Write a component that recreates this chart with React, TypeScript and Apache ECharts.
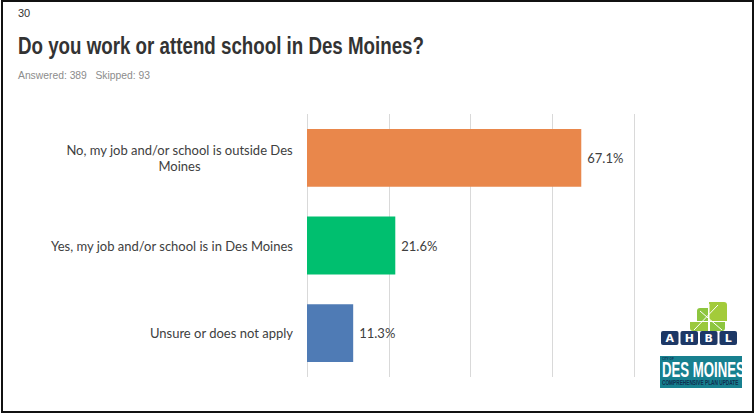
import React, { useEffect, useRef } from "react";
import * as echarts from "echarts";

const categories = [
  "No, my job and/or school is outside Des\nMoines",
  "Yes, my job and/or school is in Des Moines",
  "Unsure or does not apply",
];
const values = [67.1, 21.6, 11.3];
const barColors = ["#E9874B", "#00BF6F", "#4F7BB5"];
const xTicks = { min: 0, max: 80, interval: 20 };
const slideNumber = "30";
const titleText = "Do you work or attend school in Des Moines?";
const subtitleText = "Answered: 389   Skipped: 93";
const logoLetters = ["A", "H", "B", "L"];

const SANS = "'Liberation Sans', Arial, sans-serif";
const BODY = "Lato, 'Noto Sans', sans-serif";

export default function App() {
  const ref = useRef<HTMLDivElement>(null);
  useEffect(() => {
    if (!ref.current) return;
    const chart = echarts.init(ref.current, undefined, { renderer: "svg" });
    const option: any = {
      animation: false,
      backgroundColor: "#ffffff",
      grid: { left: 307, right: 121, top: 114, bottom: 37, containLabel: false },
      xAxis: {
        type: "value",
        min: xTicks.min,
        max: xTicks.max,
        interval: xTicks.interval,
        axisLabel: { show: false },
        axisLine: { show: false },
        axisTick: { show: false },
        splitLine: { show: true, lineStyle: { color: "#d9d9d9", width: 1 } },
      },
      yAxis: {
        type: "category",
        inverse: true,
        data: categories.map((c) =>
          c.includes("\n")
            ? { value: c, textStyle: { align: "center", padding: [0, 227, 0, 0] } }
            : c
        ),
        axisLine: { show: false },
        axisTick: { show: false },
        axisLabel: {
          margin: 14,
          align: "right",
          fontFamily: BODY,
          fontSize: 13,
          color: "#404040",
          lineHeight: 16,
        },
      },
      series: [
        {
          type: "bar",
          data: values.map((v, i) => ({ value: v, itemStyle: { color: barColors[i] } })),
          barCategoryGap: "34%",
          label: {
            show: true,
            position: "right",
            distance: 6,
            formatter: (p: any) => `${p.value.toFixed(1)}%`,
            fontFamily: BODY,
            fontSize: 13,
            color: "#404040",
          },
        },
      ],
      graphic: [
        {
          type: "rect",
          shape: { x: 2, y: 1, width: 751, height: 411 },
          style: { fill: "none", stroke: "#111111", lineWidth: 2 },
          silent: true,
        },
        {
          type: "text",
          x: 18,
          y: 7,
          style: { text: slideNumber, fill: "#333333", font: `11px ${SANS}`, align: "left", verticalAlign: "top" },
        },
        {
          type: "text",
          x: 18,
          y: 34,
          scaleX: 0.815,
          style: { text: titleText, fill: "#333333", font: `bold 23px ${SANS}`, align: "left", verticalAlign: "top" },
        },
        {
          type: "text",
          x: 18,
          y: 69,
          scaleX: 0.94,
          style: { text: subtitleText, fill: "#8c8c8c", font: `11px ${SANS}`, align: "left", verticalAlign: "top" },
        },
        // AHBL leaf mark
        { type: "rect", shape: { x: 709, y: 302, width: 18, height: 19, r: [0, 3, 0, 3] }, style: { fill: "#A3CB3A" } },
        { type: "rect", shape: { x: 697, y: 308, width: 11, height: 13, r: [3, 0, 0, 0] }, style: { fill: "#8DC63F" } },
        { type: "rect", shape: { x: 690, y: 322, width: 18, height: 9, r: [0, 0, 0, 3] }, style: { fill: "#9BC93C" } },
        { type: "rect", shape: { x: 710, y: 322, width: 15, height: 9, r: [0, 0, 3, 0] }, style: { fill: "#8DC63F" } },
        { type: "line", shape: { x1: 700, y1: 311, x2: 722, y2: 330 }, style: { stroke: "#ffffff", lineWidth: 1 } },
        { type: "line", shape: { x1: 718, y1: 305, x2: 694, y2: 330 }, style: { stroke: "#ffffff", lineWidth: 1 } },
        { type: "line", shape: { x1: 709, y1: 304, x2: 709, y2: 331 }, style: { stroke: "#ffffff", lineWidth: 1 } },
        // AHBL letter boxes
        ...logoLetters.flatMap((ch, i) => [
          {
            type: "rect",
            shape: { x: 661 + i * 19.5, y: 331, width: 17.5, height: 14, r: 2 },
            style: { fill: "#1D3866" },
          },
          {
            type: "text",
            x: 661 + i * 19.5 + 8.75,
            y: 338.5,
            style: {
              text: ch,
              fill: "#ffffff",
              font: "bold 11px 'DejaVu Sans', sans-serif",
              align: "center",
              verticalAlign: "middle",
            },
          },
        ]),
        // Des Moines box
        {
          type: "rect",
          shape: { x: 660, y: 356, width: 82, height: 32 },
          style: { fill: "#17808F" },
        },
        {
          type: "text",
          x: 662,
          y: 357,
          style: { text: "CITY OF", fill: "#0f2f4f", font: `bold 3px ${SANS}`, align: "left", verticalAlign: "top" },
        },
        {
          type: "text",
          x: 662,
          y: 359,
          scaleX: 0.6,
          style: { text: "DES MOINES", fill: "#ffffff", font: `bold 22px ${SANS}`, align: "left", verticalAlign: "top" },
        },
        {
          type: "text",
          x: 662,
          y: 379,
          scaleX: 0.68,
          style: { text: "COMPREHENSIVE PLAN UPDATE", fill: "#0f2f4f", font: `bold 7px ${SANS}`, align: "left", verticalAlign: "top" },
        },
      ],
    };
    chart.setOption(option);
    return () => chart.dispose();
  }, []);
  return (
    <div
      ref={ref}
      style={{ position: "absolute", left: 0, top: 0, width: 755, height: 414 }}
    />
  );
}
